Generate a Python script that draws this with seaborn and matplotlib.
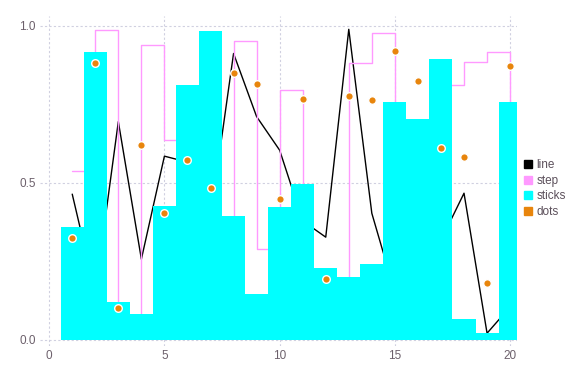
import numpy as np
import pandas as pd
import matplotlib
matplotlib.use("Agg")
import matplotlib.pyplot as plt
import seaborn as sns
from matplotlib.lines import Line2D

x = list(range(1, 21))
line_vals = [0.463, 0.15, 0.694, 0.256, 0.584, 0.565, 0.39, 0.911, 0.710, 0.603,
             0.378, 0.326, 0.988, 0.402, 0.15, 0.30, 0.316, 0.466, 0.020, 0.104]
step_vals = [0.537, 0.986, 0.05, 0.938, 0.635, 0.70, 0.30, 0.952, 0.287, 0.795,
             0.15, 0.12, 0.882, 0.977, 0.55, 0.65, 0.81, 0.883, 0.917, 0.45]
stick_vals = [0.358, 0.915, 0.118, 0.080, 0.426, 0.810, 0.982, 0.393, 0.145, 0.423,
              0.495, 0.228, 0.199, 0.240, 0.757, 0.702, 0.893, 0.066, 0.021, 0.756]
dot_vals = [0.323, 0.882, 0.101, 0.620, 0.402, 0.571, 0.482, 0.848, 0.815, 0.446,
            0.765, 0.192, 0.775, 0.764, 0.919, 0.823, 0.610, 0.581, 0.180, 0.872]
series_names = ["line", "step", "sticks", "dots"]
colors = ["#000000", "#FF99FF", "#00FFFF", "#E8850C"]
xticks = [0, 5, 10, 15, 20]
yticks = [0.0, 0.5, 1.0]

df = pd.DataFrame({"x": x, "line": line_vals, "step": step_vals,
                   "sticks": stick_vals, "dots": dot_vals})

sns.set_style("white")
plt.rcParams["font.family"] = ["Liberation Sans", "DejaVu Sans"]

fig = plt.figure(figsize=(5.76, 3.84), dpi=100)
ax = fig.add_axes([0.0694, 0.0995, 0.8282, 0.8585])

sns.lineplot(data=df, x="x", y="line", color=colors[0], linewidth=1.0, ax=ax, zorder=2)
sns.lineplot(data=df, x="x", y="step", color=colors[1], linewidth=1.0,
             drawstyle="steps-post", ax=ax, zorder=2)
ax.bar(df["x"], df["sticks"], width=1.0, color=colors[2], linewidth=0, zorder=3)
sns.scatterplot(data=df, x="x", y="dots", color=colors[3], s=30, edgecolor="white",
                linewidth=1.0, ax=ax, zorder=4)

ax.set_xlim(-0.4, 20.3)
ax.set_ylim(-0.02, 1.03)
ax.set_xticks(xticks)
ax.set_xticklabels([str(t) for t in xticks])
ax.set_yticks(yticks)
ax.set_yticklabels(["0.0", "0.5", "1.0"])
ax.grid(True, color="#D0D0E0", linestyle=(0, (2, 2)), linewidth=0.8, zorder=0)
ax.set_axisbelow(True)
for s in ax.spines.values():
    s.set_visible(False)
ax.tick_params(axis="both", length=0, labelsize=8.5, colors="#6C606B", pad=3)
ax.set_xlabel("")
ax.set_ylabel("")

handles = [Line2D([0], [0], marker="s", linestyle="none", markersize=6,
                  markerfacecolor=c, markeredgecolor=c) for c in colors]
fig.legend(handles, series_names, loc="center left", bbox_to_anchor=(0.898, 0.509),
           frameon=False, fontsize=8.5, handletextpad=0.2, labelspacing=0.3,
           handlelength=1.0, labelcolor="#5C505B", borderaxespad=0)

fig.savefig("out.png", dpi=100)
